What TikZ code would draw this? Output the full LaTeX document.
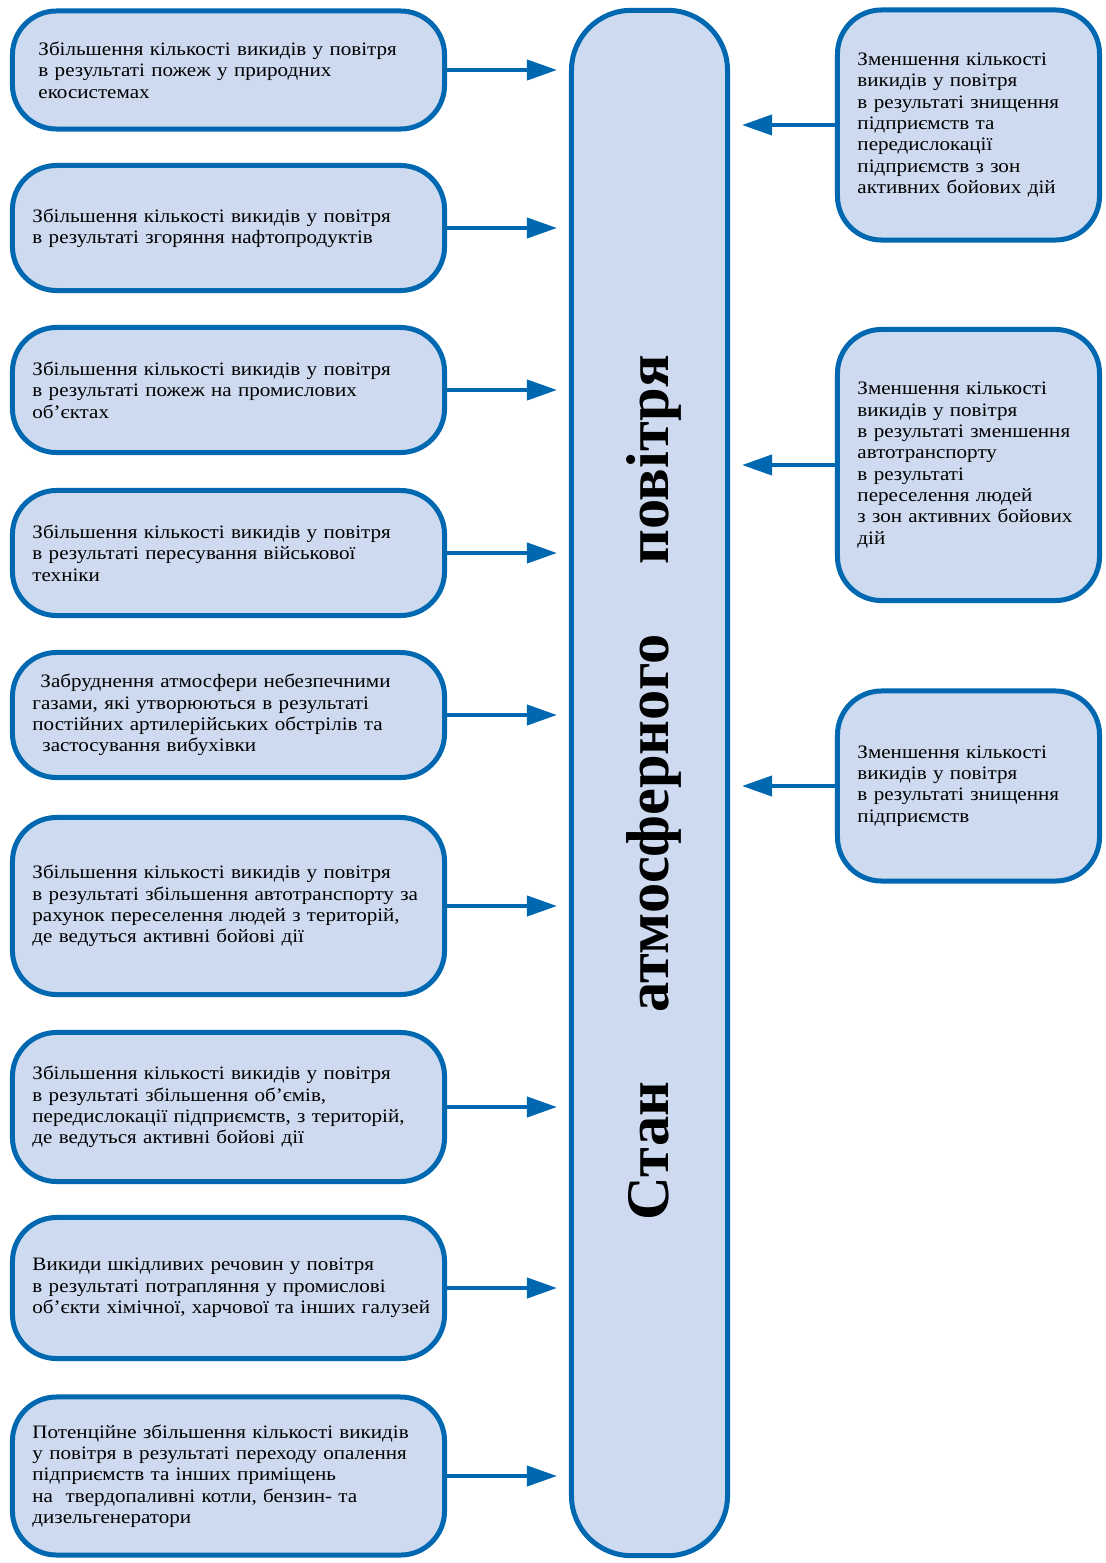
\documentclass[tikz,border=0pt]{standalone}
\usepackage{fontspec}
\setmainfont{Liberation Serif}
\newfontfamily\boxfont{Liberation Serif}[FakeStretch=1.11]
\usetikzlibrary{arrows.meta}

\definecolor{rambl}{RGB}{0,104,176}
\definecolor{zalyv}{RGB}{205,218,239}

\tikzset{
  ramka/.style={draw=rambl, line width=5*0.025cm, fill=zalyv, rounded corners=1.1cm,
    inner xsep=0.5cm, align=left, font=\boxfont\fontsize{13.5}{15.2}\selectfont},
  lbox/.style={ramka, minimum width=10.8cm, text width=9.8cm},
  rbox/.style={ramka, minimum width=6.55cm, text width=5.55cm},
  strilka/.style={draw=rambl, line width=0.1cm, -{Triangle[length=0.75cm,width=0.5cm]}, shorten >=0.3cm}
}

\begin{document}
\begin{tikzpicture}[x=0.025cm, y=-0.025cm]
	
	% 画布范围
	\useasboundingbox (0,0) rectangle (1105,1563); % 与原图同样大小
	
	% 中间的大框
	\node[draw=rambl, line width=5*0.025cm, fill=zalyv, rounded corners=1.5cm,
	      minimum width=3.9cm, minimum height=38.625cm] (stan) at (649.5,783) {}; % 竖直的长框
	\node[rotate=90, anchor=base, font=\fontsize{43}{43}\selectfont\bfseries] (stantext) at (668,787.5)
	      {\makebox[21.625cm][s]{Стан\hfill атмосферного\hfill повітря}}; % 竖排标题
	
	% 左边的方框
	\node[lbox, minimum height=2.95cm] (L1) at (228.5,70) {\hspace{0.15cm}Збільшення кількості викидів у повітря\\\hspace{0.15cm}в результаті пожеж у природних\\\hspace{0.15cm}екосистемах}; % 第一框
	\node[lbox, minimum height=3.125cm] (L2) at (228.5,228) {Збільшення кількості викидів у повітря\\в результаті згоряння нафтопродуктів}; % 第二框
	\node[lbox, minimum height=3.125cm] (L3) at (228.5,390) {Збільшення кількості викидів у повітря\\в результаті пожеж на промислових\\об’єктах}; % 第三框
	\node[lbox, minimum height=3.125cm] (L4) at (228.5,553) {Збільшення кількості викидів у повітря\\в результаті пересування військової\\техніки}; % 第四框
	\node[lbox, minimum height=3.125cm] (L5) at (228.5,715) {\hspace{0.2cm}Забруднення атмосфери небезпечними\\газами, які утворюються в результаті\\постійних артилерійських обстрілів та\\\hspace{0.25cm}застосування вибухівки}; % 第五框
	\node[lbox, minimum height=4.425cm] (L6) at (228.5,906) {Збільшення кількості викидів у повітря\\в результаті збільшення автотранспорту за\\рахунок переселення людей з територій,\\де ведуться активні бойові дії}; % 第六框
	\node[lbox, minimum height=3.725cm] (L7) at (228.5,1107) {Збільшення кількості викидів у повітря\\в результаті збільшення об’ємів,\\передислокації підприємств, з територій,\\де ведуться активні бойові дії}; % 第七框
	\node[lbox, minimum height=3.525cm] (L8) at (228.5,1288) {Викиди шкідливих речовин у повітря\\в результаті потрапляння у промислові\\\mbox{об’єкти хімічної, харчової та інших галузей}}; % 第八框
	\node[lbox, minimum height=3.95cm] (L9) at (228.5,1476) {Потенційне збільшення кількості викидів\\у повітря в результаті переходу опалення\\підприємств та інших приміщень\\на\ \ твердопаливні котли, бензин- та\\дизельгенератори}; % 第九框
	
	% 右边的方框
	\node[rbox, minimum height=5.75cm] (R1) at (968.5,125) {Зменшення кількості\\викидів у повітря\\в результаті знищення\\підприємств та\\передислокації\\підприємств з зон\\активних бойових дій}; % 右一
	\node[rbox, minimum height=6.775cm] (R2) at (968.5,465) {Зменшення кількості\\викидів у повітря\\в результаті зменшення\\автотранспорту\\в результаті\\переселення людей\\з зон активних бойових\\дій}; % 右二
	\node[rbox, minimum height=4.75cm] (R3) at (968.5,786) {Зменшення кількості\\викидів у повітря\\в результаті знищення\\підприємств}; % 右三
	
	% 左边的箭头
	\draw[strilka] (L1.east) -- (L1.east -| stan.west); % 箭头 1
	\draw[strilka] (L2.east) -- (L2.east -| stan.west); % 箭头 2
	\draw[strilka] (L3.east) -- (L3.east -| stan.west); % 箭头 3
	\draw[strilka] (L4.east) -- (L4.east -| stan.west); % 箭头 4
	\draw[strilka] (L5.east) -- (L5.east -| stan.west); % 箭头 5
	\draw[strilka] (L6.east) -- (L6.east -| stan.west); % 箭头 6
	\draw[strilka] (L7.east) -- (L7.east -| stan.west); % 箭头 7
	\draw[strilka] (L8.east) -- (L8.east -| stan.west); % 箭头 8
	\draw[strilka] (L9.east) -- (L9.east -| stan.west); % 箭头 9
	
	% 右边的箭头
	\draw[strilka] (R1.west) -- (R1.west -| stan.east); % 右箭头 1
	\draw[strilka] (R2.west) -- (R2.west -| stan.east); % 右箭头 2
	\draw[strilka] (R3.west) -- (R3.west -| stan.east); % 右箭头 3
	
\end{tikzpicture}
\end{document}
